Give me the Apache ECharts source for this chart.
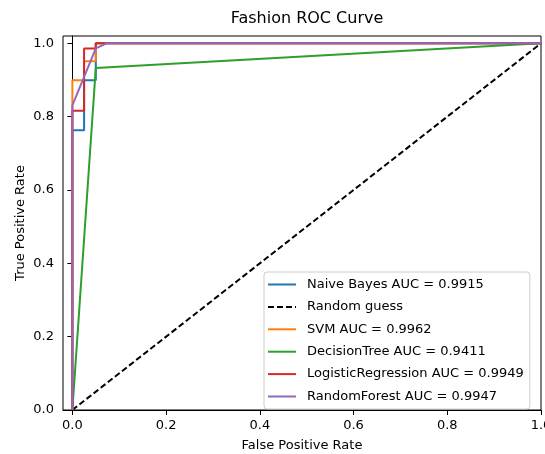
<!DOCTYPE html>
<html lang="en">
<head>
    <meta charset="utf-8">
    <script src="https://cdn.jsdelivr.net/npm/echarts@6/dist/echarts.min.js"></script>
    <title>Fashion ROC Curve</title>
</head>
<body>
<style>
    html, body { margin: 0; background: #fff; }
    #main { width: 545px; height: 454px; }
</style>
<div id='main'></div>
<script>
    // ROC points [fpr, tpr]
    var naiveBayes = [[0, 0], [0, 0.763], [0.025, 0.763], [0.025, 0.899], [0.05, 0.899], [0.05, 1.0], [1, 1]];
    var randomGuess = [[0, 0], [1, 1]];
    var svm = [[0, 0], [0, 0.899], [0.025, 0.899], [0.025, 0.951], [0.05, 0.951], [0.05, 1.0], [1, 1]];
    var decisionTree = [[0, 0], [0.05, 0.933], [1, 1]];
    var logisticRegression = [[0, 0], [0, 0.816], [0.025, 0.816], [0.025, 0.986], [0.05, 0.986], [0.05, 1.0], [1, 1]];
    var randomForest = [[0, 0], [0, 0.831], [0.05, 0.986], [0.073, 1.0], [1, 1]];

    var seriesNames = ['Naive Bayes AUC = 0.9915', 'Random guess', 'SVM AUC = 0.9962',
        'DecisionTree AUC = 0.9411', 'LogisticRegression AUC = 0.9949', 'RandomForest AUC = 0.9947'];
    var xTicks = [0, 0.2, 0.4, 0.6, 0.8, 1.0];
    var yTicks = [0, 0.2, 0.4, 0.6, 0.8, 1.0];

    var font = 'DejaVu Sans';

    function curve(name, data, color, dashed) {
        return {
            name: name,
            type: 'line',
            data: data,
            symbol: 'none',
            animation: false,
            lineStyle: { color: color, width: 2, type: dashed ? [6, 3] : 'solid' },
            itemStyle: { color: color }
        };
    }

    var chart = echarts.init(document.getElementById('main'));
    var option = {
        backgroundColor: '#fff',
        textStyle: { fontFamily: font },
        title: {
            text: 'Fashion ROC Curve',
            left: 302,
            textAlign: 'center',
            top: 6,
            textStyle: { fontFamily: font, fontSize: 16, fontWeight: 'normal', color: '#000' }
        },
        grid: {
            left: 63, right: 4, top: 36, bottom: 44,
            outerBoundsMode: 'none',
            show: true, borderColor: '#000', borderWidth: 1
        },
        legend: {
            orient: 'vertical',
            left: 264, top: 272,
            itemWidth: 28, itemHeight: 12, itemGap: 9.4,
            padding: [6, 6, 6, 3],
            backgroundColor: 'rgba(255,255,255,0.8)',
            borderColor: '#ccc', borderWidth: 1, borderRadius: 3,
            itemStyle: { opacity: 0 },
            textStyle: { fontFamily: font, fontSize: 13, color: '#000', padding: [0, 0, 0, 6] },
            data: seriesNames
        },
        xAxis: {
            type: 'value', min: -0.02, max: 1.0,
            name: 'False Positive Rate', nameLocation: 'middle', nameGap: 29,
            nameMoveOverlap: false,
            nameTextStyle: { fontFamily: font, fontSize: 13, color: '#000' },
            axisLine: { lineStyle: { color: '#000', width: 1 } },
            axisTick: { length: 5, lineStyle: { color: '#000' }, customValues: xTicks },
            axisLabel: {
                fontFamily: font, fontSize: 13, color: '#000', margin: 9, customValues: xTicks,
                formatter: function (v) { return v.toFixed(1); }
            },
            splitLine: { show: false }
        },
        yAxis: {
            type: 'value', min: 0, max: 1.02,
            name: 'True Positive Rate', nameLocation: 'middle', nameGap: 36,
            nameMoveOverlap: false,
            nameTextStyle: { fontFamily: font, fontSize: 13, color: '#000' },
            axisLine: { show: true, lineStyle: { color: '#000', width: 1 } },
            axisTick: { show: true, length: 5, lineStyle: { color: '#000' }, customValues: yTicks },
            axisLabel: {
                fontFamily: font, fontSize: 13, color: '#000', margin: 9, customValues: yTicks,
                formatter: function (v) { return v.toFixed(1); }
            },
            splitLine: { show: false }
        },
        series: [
            curve(seriesNames[0], naiveBayes, '#1f77b4'),
            curve(seriesNames[1], randomGuess, '#000000', true),
            curve(seriesNames[2], svm, '#ff7f0e'),
            curve(seriesNames[3], decisionTree, '#2ca02c'),
            curve(seriesNames[4], logisticRegression, '#d62728'),
            curve(seriesNames[5], randomForest, '#9467bd')
        ]
    };
    chart.setOption(option);
</script>
</body>
</html>
